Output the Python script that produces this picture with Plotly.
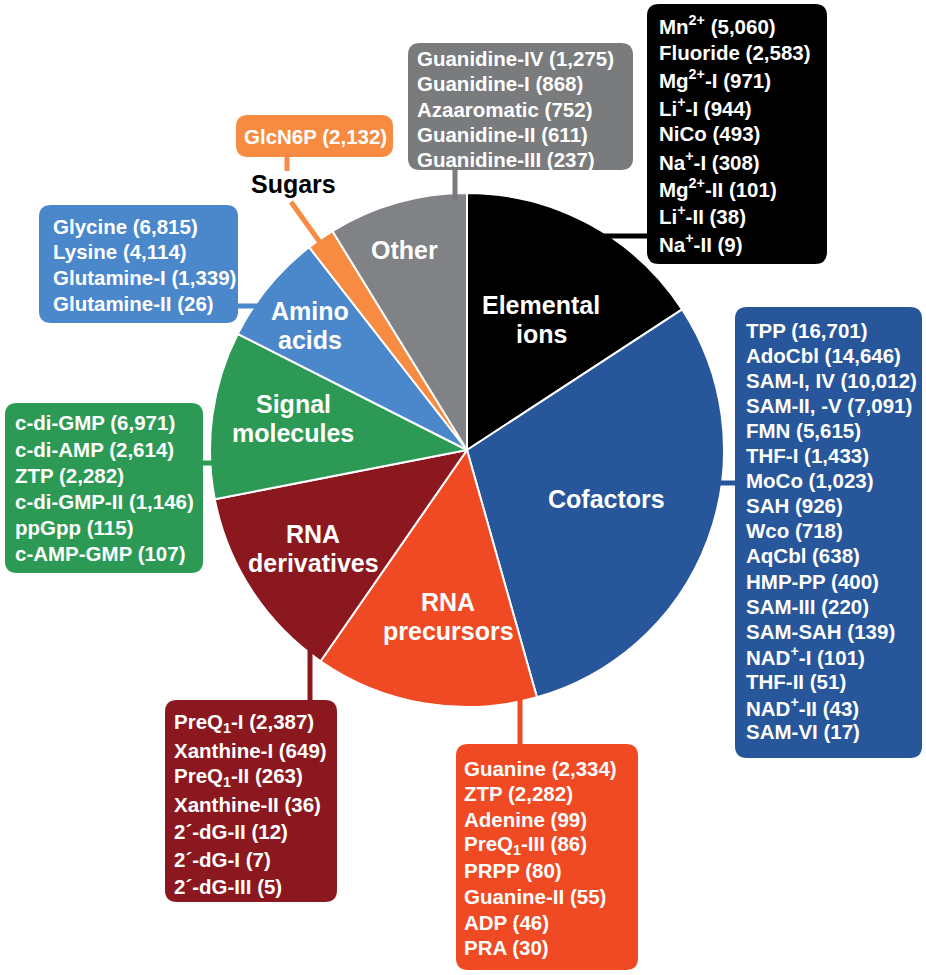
import plotly.graph_objects as go

W, H = 926, 975

# riboswitch classes per ligand group (numbers = representatives found)
categories = ["Elemental ions", "Cofactors", "RNA precursors", "RNA derivatives",
              "Signal molecules", "Amino acids", "Sugars", "Other"]

elemental_ions = ["Mn<sup>2+</sup> (5,060)", "Fluoride (2,583)", "Mg<sup>2+</sup>-I (971)",
                  "Li<sup>+</sup>-I (944)", "NiCo (493)", "Na<sup>+</sup>-I (308)",
                  "Mg<sup>2+</sup>-II (101)", "Li<sup>+</sup>-II (38)", "Na<sup>+</sup>-II (9)"]
cofactors = ["TPP (16,701)", "AdoCbl (14,646)", "SAM-I, IV (10,012)", "SAM-II, -V (7,091)",
             "FMN (5,615)", "THF-I (1,433)", "MoCo (1,023)", "SAH (926)", "Wco (718)",
             "AqCbl (638)", "HMP-PP (400)", "SAM-III (220)", "SAM-SAH (139)",
             "NAD<sup>+</sup>-I (101)", "THF-II (51)", "NAD<sup>+</sup>-II (43)", "SAM-VI (17)"]
rna_precursors = ["Guanine (2,334)", "ZTP (2,282)", "Adenine (99)", "PreQ<sub>1</sub>-III (86)",
                  "PRPP (80)", "Guanine-II (55)", "ADP (46)", "PRA (30)"]
rna_derivatives = ["PreQ<sub>1</sub>-I (2,387)", "Xanthine-I (649)", "PreQ<sub>1</sub>-II (263)",
                   "Xanthine-II (36)", "2\u00b4-dG-II (12)", "2\u00b4-dG-I (7)", "2\u00b4-dG-III (5)"]
signal_molecules = ["c-di-GMP (6,971)", "c-di-AMP (2,614)", "ZTP (2,282)", "c-di-GMP-II (1,146)",
                    "ppGpp (115)", "c-AMP-GMP (107)"]
amino_acids = ["Glycine (6,815)", "Lysine (4,114)", "Glutamine-I (1,339)", "Glutamine-II (26)"]
sugars = ["GlcN6P (2,132)"]
other = ["Guanidine-IV (1,275)", "Guanidine-I (868)", "Azaaromatic (752)",
         "Guanidine-II (611)", "Guanidine-III (237)"]

members = [elemental_ions, cofactors, rna_precursors, rna_derivatives,
           signal_molecules, amino_acids, sugars, other]
class_counts = [len(m) for m in members]

slice_colors = ["#000000", "#27569B", "#EF4A23", "#8B181E",
                "#2C9A55", "#4B87CB", "#F68B41", "#808285"]
box_colors = ["#000000", "#27569B", "#EF4A23", "#8B181E",
              "#2C9A55", "#4B87CB", "#F68B41", "#797B7D"]

FONT = "Liberation Sans, Arial, Helvetica, sans-serif"


def X(x):
    return x / W


def Y(y):
    return 1 - y / H


def rounded_path(x0, y0, x1, y1, r=12):
    return (f"M {X(x0 + r)} {Y(y0)} L {X(x1 - r)} {Y(y0)} Q {X(x1)} {Y(y0)} {X(x1)} {Y(y0 + r)} "
            f"L {X(x1)} {Y(y1 - r)} Q {X(x1)} {Y(y1)} {X(x1 - r)} {Y(y1)} "
            f"L {X(x0 + r)} {Y(y1)} Q {X(x0)} {Y(y1)} {X(x0)} {Y(y1 - r)} "
            f"L {X(x0)} {Y(y0 + r)} Q {X(x0)} {Y(y0)} {X(x0 + r)} {Y(y0)} Z")


fig = go.Figure(go.Pie(
    labels=categories,
    values=class_counts,
    sort=False,
    direction="clockwise",
    rotation=0,
    textinfo="none",
    hoverinfo="label+value",
    marker=dict(colors=slice_colors, line=dict(color="white", width=2)),
    domain=dict(x=[X(210), X(724)], y=[Y(707), Y(193)]),
    showlegend=False,
))

# box placement: x0, y0, x1, y1, text left, first line centre, line spacing
box_pos = [
    (647, 4, 827, 264, 657, 25, 27.2),
    (735, 307, 922, 758, 744, 330, 25.1),
    (456, 744, 638, 970, 462, 768, 25.7),
    (165, 700, 337, 902, 172, 723, 27.2),
    (5, 403, 203, 573, 13, 423, 26),
    (39, 205, 238, 323, 51, 226, 25.7),
    (236, 115, 393, 157, 242, 136, 25),
    (408, 43, 633, 170, 415, 59, 25),
]

# connector lines from pie to boxes (x0, y0, x1, y1)
connectors = [
    (598, 236, 650, 236),
    (718, 483, 737, 483),
    (520, 695, 520, 746),
    (310, 645, 310, 702),
    (200, 463, 214, 463),
    (236, 306, 258, 306),
    (287, 155, 287, 171),
    (455, 168, 455, 200),
]

shapes = []
annotations = []
for i, items in enumerate(members):
    x0, y0, x1, y1, tx, ty, dy = box_pos[i]
    col = box_colors[i]
    cx0, cy0, cx1, cy1 = connectors[i]
    shapes.append(dict(type="line", xref="paper", yref="paper",
                       x0=X(cx0), y0=Y(cy0), x1=X(cx1), y1=Y(cy1),
                       line=dict(color=col, width=5)))
    shapes.append(dict(type="path", xref="paper", yref="paper",
                       path=rounded_path(x0, y0, x1, y1),
                       fillcolor=col, line=dict(width=0)))
    for k, txt in enumerate(items):
        annotations.append(dict(
            text=f"<b>{txt}</b>", xref="paper", yref="paper",
            x=X(tx), y=Y(ty + k * dy), xanchor="left", yanchor="middle",
            showarrow=False, font=dict(family=FONT, size=20.5, color="white")))

# sugars leader line into the thin slice
shapes.append(dict(type="line", xref="paper", yref="paper",
                   x0=X(291), y0=Y(202), x1=X(324), y1=Y(248),
                   line=dict(color=slice_colors[6], width=5)))

# slice labels
slice_labels = [
    ("Elemental", 541, 305, "white"), ("ions", 541, 334, "white"),
    ("Cofactors", 606, 499, "white"),
    ("RNA", 448, 602, "white"), ("precursors", 448, 631, "white"),
    ("RNA", 313, 534, "white"), ("derivatives", 313, 563, "white"),
    ("Signal", 293, 404, "white"), ("molecules", 293, 433, "white"),
    ("Amino", 310, 311, "white"), ("acids", 310, 340, "white"),
    ("Sugars", 293, 184, "black"),
    ("Other", 404, 250, "white"),
]
for txt, lx, ly, c in slice_labels:
    annotations.append(dict(
        text=f"<b>{txt}</b>", xref="paper", yref="paper", x=X(lx), y=Y(ly),
        xanchor="center", yanchor="middle", showarrow=False,
        font=dict(family=FONT, size=25, color=c)))

fig.update_layout(
    width=W,
    height=H,
    margin=dict(l=0, r=0, t=0, b=0),
    paper_bgcolor="white",
    plot_bgcolor="white",
    showlegend=False,
    shapes=shapes,
    annotations=annotations,
)

# drop the default page margin so the figure sits at the window origin
fig.write_html("out.html", config={"displayModeBar": False},
               post_script="document.body.style.margin = '0';")
